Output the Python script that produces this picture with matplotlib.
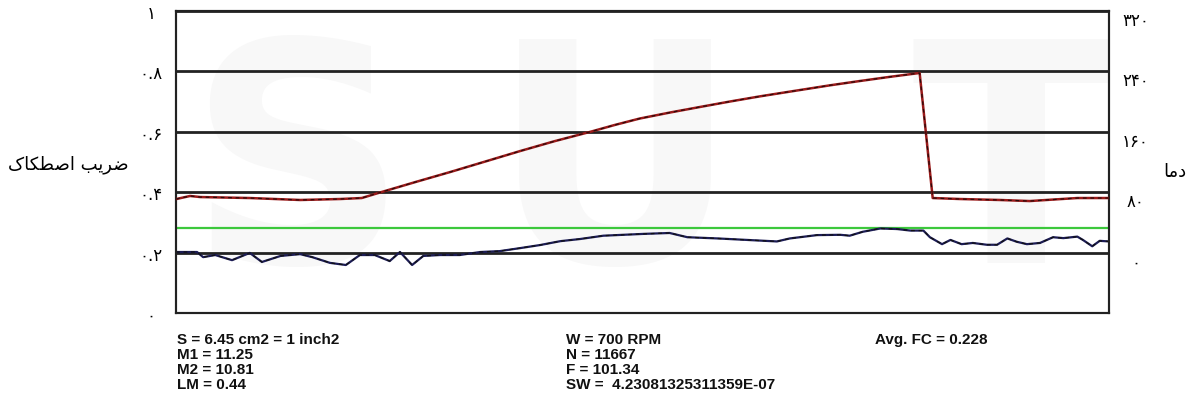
import numpy as np
import matplotlib
matplotlib.use("Agg")
import matplotlib.pyplot as plt

# test progress (% of run length)
fc_time = [0, 2.25, 2.9, 4.2, 6.0, 7.9, 9.2, 11.2, 13.3, 14.6, 16.5, 18.2, 19.7,
           21.3, 22.9, 24.0, 25.3, 26.5, 28.3, 30.4, 32.6, 34.7, 36.9, 39.0,
           41.2, 43.3, 45.8, 50.1, 52.9, 54.8, 58.0, 61.2, 64.4, 65.8, 68.7,
           71.2, 72.2, 73.6, 75.5, 77.3, 78.7, 80.1, 80.8, 82.1, 83.0, 84.2,
           85.4, 86.9, 88.0, 89.1, 90.1, 91.2, 92.6, 94.0, 95.1, 96.6, 97.2,
           98.2, 99.0, 100]
# friction coefficient
fc = [0.202, 0.202, 0.185, 0.192, 0.175, 0.199, 0.169, 0.189, 0.195, 0.185,
      0.166, 0.159, 0.192, 0.192, 0.172, 0.202, 0.159, 0.189, 0.192, 0.192,
      0.202, 0.205, 0.215, 0.225, 0.238, 0.245, 0.256, 0.262, 0.265, 0.251,
      0.247, 0.242, 0.237, 0.247, 0.258, 0.259, 0.256, 0.269, 0.280, 0.278,
      0.273, 0.273, 0.251, 0.228, 0.242, 0.228, 0.232, 0.226, 0.226, 0.247,
      0.236, 0.228, 0.232, 0.251, 0.248, 0.253, 0.242, 0.221, 0.239, 0.237]

temp_time = [0, 1.5, 2.6, 7.9, 13.3, 17.6, 19.9, 22.2, 25.8, 29.4, 33.1, 36.9,
             40.6, 44.4, 47.0, 49.7, 53.0, 56.2, 59.4, 62.6, 64.8, 66.9, 70.1,
             73.3, 76.5, 79.7, 81.1, 84.0, 88.3, 91.5, 96.6, 100]
# temperature
temp = [70.9, 75.0, 73.6, 72.3, 69.7, 71.0, 72.3, 80.9, 94.0, 106.8, 120.5,
        134.6, 147.7, 160.0, 169.0, 177.6, 185.7, 193.0, 200.2, 207.0, 211.3,
        215.4, 221.6, 227.3, 232.8, 237.9, 72.3, 71.0, 69.7, 68.3, 72.3, 72.3]

ref_level = 0.28

left_ticks = [0, 0.2, 0.4, 0.6, 0.8, 1]
left_labels = ["۰", "۰.۲", "۰.۴", "۰.۶", "۰.۸", "۱"]
right_ticks = [0, 80, 160, 240, 320]
right_labels = ["۰", "۸۰", "۱۶۰", "۲۴۰", "۳۲۰"]

# Persian labels in visual (shaped, left-to-right) order
fc_label = "\ufb8e\ufe8e\ufb91\ufec4\ufebb\ufe8d \ufe90\ufbfe\ufeae\ufebf"  # ضریب اصطکاک
temp_label = "\ufe8e\ufee3\ufea9"  # دما

info_col1 = ["S = 6.45 cm2 = 1 inch2", "M1 = 11.25", "M2 = 10.81", "LM = 0.44"]
info_col2 = ["W = 700 RPM", "N = 11667", "F = 101.34", "SW =  4.23081325311359E-07"]
info_col3 = ["Avg. FC = 0.228"]

fig = plt.figure(figsize=(11.92, 4.10), dpi=100)
ax = fig.add_axes([0.1477, 0.2341, 0.9304 - 0.1477, 0.9707 - 0.2341])
ax2 = ax.twinx()

# faint watermark letters inside the plot area
for wx, letter in [(0.13, "S"), (0.47, "U"), (0.90, "T")]:
    ax.text(wx, 0.45, letter, transform=ax.transAxes, ha="center", va="center",
            fontsize=220, color="#f8f8f8", fontweight="bold", zorder=0,
            family="DejaVu Sans", clip_on=True)

ax.set_xlim(0, 100)
ax.set_ylim(0, 1)
ax2.set_ylim(-80, 320)
ax.set_xticks([])

ax.set_yticks(left_ticks)
ax.set_yticklabels(left_labels, ha="center", family="DejaVu Sans", fontsize=12)
ax.tick_params(axis="y", length=0, pad=18)
ax2.set_yticks(right_ticks)
ax2.set_yticklabels(right_labels, ha="center", family="DejaVu Sans", fontsize=12)
ax2.tick_params(axis="y", length=0, pad=19)
for lab in ax2.get_yticklabels():
    lab.set_va("top")

ax.grid(axis="y", color="#222222", lw=2)
ax.set_axisbelow(True)
for a in (ax, ax2):
    for s in a.spines.values():
        s.set_color("#222222")
        s.set_linewidth(1.5)

ax.axhline(ref_level, color="#3cc83c", lw=1.6, zorder=2)
ax.plot(fc_time, fc, color="#1c1c55", lw=1.6, zorder=3)
ax.plot(fc_time, fc, color="#111111", lw=0.9, ls=(0, (3, 3)), zorder=3)
ax2.plot(temp_time, temp, color="#9a1a1a", lw=1.8, zorder=3)
ax2.plot(temp_time, temp, color="#2a0a0a", lw=0.9, ls=(0, (3, 3)), zorder=3)

ax.set_ylabel(fc_label, rotation=0, ha="center", va="center",
              family="DejaVu Sans", fontsize=13)
ax.yaxis.set_label_coords(-0.115, 0.493)
ax2.set_ylabel(temp_label, rotation=0, ha="center", va="center",
               family="DejaVu Sans", fontsize=13)
ax2.yaxis.set_label_coords(1.0707, 0.47)

rows = [0.170, 0.134, 0.097, 0.060]
for col_x, col in [(0.1485, info_col1), (0.4748, info_col2), (0.734, info_col3)]:
    for y, txt in zip(rows, col):
        fig.text(col_x, y, txt, ha="left", va="center", fontsize=11,
                 family="Liberation Sans", fontweight="bold", color="#111111")

fig.savefig("out.png", dpi=100)
